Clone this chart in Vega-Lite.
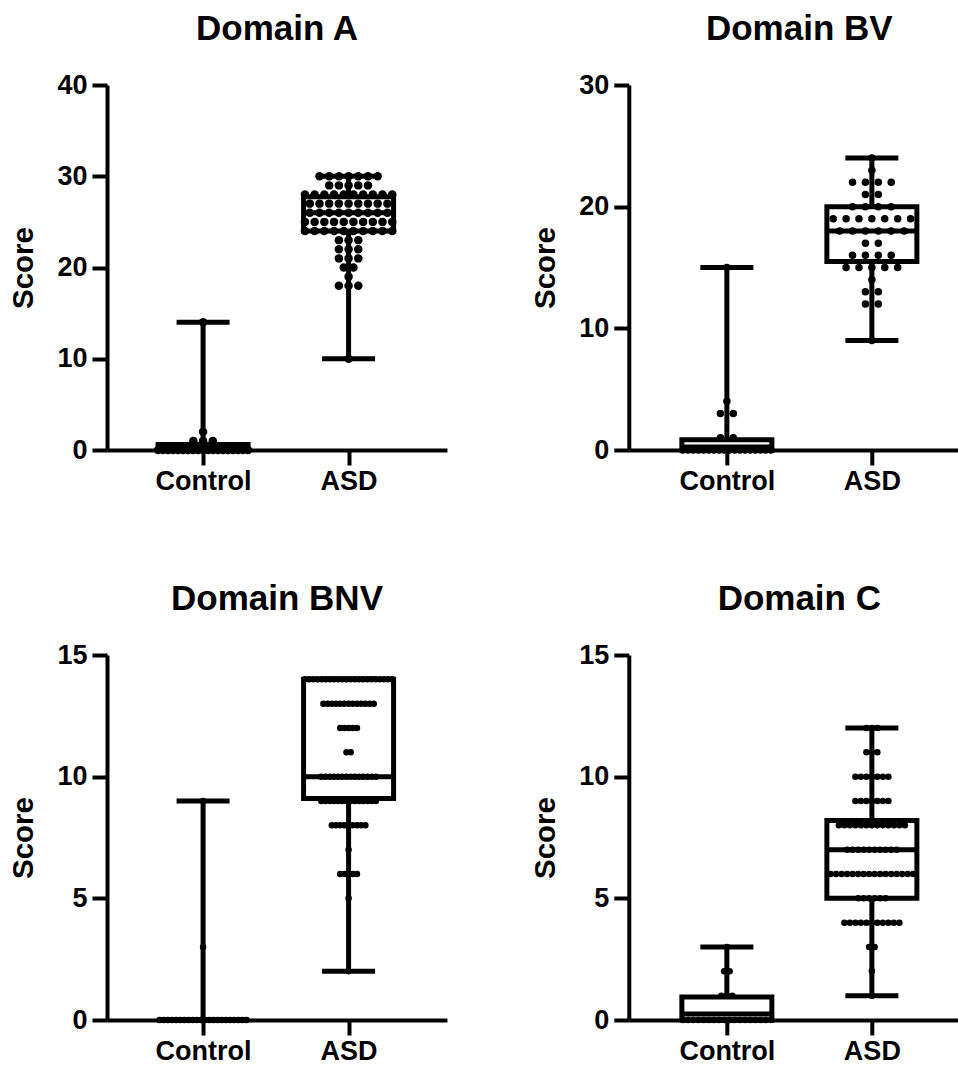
{
  "$schema": "https://vega.github.io/schema/vega-lite/v6.json",
  "padding": {"left": 8, "top": 12, "right": 0, "bottom": 0},
  "columns": 2,
  "spacing": {"row": 88, "column": 82.8},
  "datasets": {
    "A": [
      {"g":"Control","s":0},{"g":"Control","s":0},{"g":"Control","s":0},{"g":"Control","s":0},{"g":"Control","s":0},
      {"g":"Control","s":0},{"g":"Control","s":0},{"g":"Control","s":0},{"g":"Control","s":0},{"g":"Control","s":0},
      {"g":"Control","s":0},{"g":"Control","s":0},{"g":"Control","s":0},{"g":"Control","s":0},{"g":"Control","s":0},
      {"g":"Control","s":0},{"g":"Control","s":0},{"g":"Control","s":0},{"g":"Control","s":0},
      {"g":"Control","s":1},{"g":"Control","s":1},{"g":"Control","s":1},
      {"g":"Control","s":2},{"g":"Control","s":14},
      {"g":"ASD","s":30},{"g":"ASD","s":30},{"g":"ASD","s":30},{"g":"ASD","s":30},{"g":"ASD","s":30},{"g":"ASD","s":30},{"g":"ASD","s":30},
      {"g":"ASD","s":29},{"g":"ASD","s":29},{"g":"ASD","s":29},{"g":"ASD","s":29},{"g":"ASD","s":29},
      {"g":"ASD","s":28},{"g":"ASD","s":28},{"g":"ASD","s":28},{"g":"ASD","s":28},{"g":"ASD","s":28},{"g":"ASD","s":28},{"g":"ASD","s":28},{"g":"ASD","s":28},{"g":"ASD","s":28},{"g":"ASD","s":28},
      {"g":"ASD","s":27},{"g":"ASD","s":27},{"g":"ASD","s":27},{"g":"ASD","s":27},{"g":"ASD","s":27},{"g":"ASD","s":27},{"g":"ASD","s":27},{"g":"ASD","s":27},{"g":"ASD","s":27},
      {"g":"ASD","s":26},{"g":"ASD","s":26},{"g":"ASD","s":26},{"g":"ASD","s":26},{"g":"ASD","s":26},{"g":"ASD","s":26},{"g":"ASD","s":26},{"g":"ASD","s":26},{"g":"ASD","s":26},
      {"g":"ASD","s":25},{"g":"ASD","s":25},{"g":"ASD","s":25},{"g":"ASD","s":25},{"g":"ASD","s":25},{"g":"ASD","s":25},{"g":"ASD","s":25},{"g":"ASD","s":25},{"g":"ASD","s":25},{"g":"ASD","s":25},
      {"g":"ASD","s":24},{"g":"ASD","s":24},{"g":"ASD","s":24},{"g":"ASD","s":24},{"g":"ASD","s":24},{"g":"ASD","s":24},{"g":"ASD","s":24},{"g":"ASD","s":24},{"g":"ASD","s":24},{"g":"ASD","s":24},
      {"g":"ASD","s":23},{"g":"ASD","s":23},{"g":"ASD","s":23},
      {"g":"ASD","s":22},{"g":"ASD","s":22},{"g":"ASD","s":22},
      {"g":"ASD","s":21},{"g":"ASD","s":21},{"g":"ASD","s":21},
      {"g":"ASD","s":20},{"g":"ASD","s":20},
      {"g":"ASD","s":19},
      {"g":"ASD","s":18},{"g":"ASD","s":18},{"g":"ASD","s":18},
      {"g":"ASD","s":10}
    ],
    "A_box": [
      {"g":"Control","min":0,"q1":0,"med":0,"q3":0.6,"max":14},
      {"g":"ASD","min":10,"q1":24,"med":26,"q3":27.75,"max":30}
    ],
    "BV": [
      {"g":"Control","s":0},{"g":"Control","s":0},{"g":"Control","s":0},{"g":"Control","s":0},{"g":"Control","s":0},
      {"g":"Control","s":0},{"g":"Control","s":0},{"g":"Control","s":0},{"g":"Control","s":0},{"g":"Control","s":0},
      {"g":"Control","s":0},{"g":"Control","s":0},{"g":"Control","s":0},{"g":"Control","s":0},{"g":"Control","s":0},
      {"g":"Control","s":0},{"g":"Control","s":0},{"g":"Control","s":0},
      {"g":"Control","s":1},{"g":"Control","s":1},
      {"g":"Control","s":3},{"g":"Control","s":3},
      {"g":"Control","s":4},{"g":"Control","s":15},
      {"g":"ASD","s":24},{"g":"ASD","s":23},
      {"g":"ASD","s":22},{"g":"ASD","s":22},{"g":"ASD","s":22},{"g":"ASD","s":22},
      {"g":"ASD","s":21},{"g":"ASD","s":21},
      {"g":"ASD","s":20},{"g":"ASD","s":20},{"g":"ASD","s":20},{"g":"ASD","s":20},
      {"g":"ASD","s":19},{"g":"ASD","s":19},{"g":"ASD","s":19},{"g":"ASD","s":19},{"g":"ASD","s":19},{"g":"ASD","s":19},{"g":"ASD","s":19},
      {"g":"ASD","s":18},{"g":"ASD","s":18},{"g":"ASD","s":18},{"g":"ASD","s":18},{"g":"ASD","s":18},{"g":"ASD","s":18},
      {"g":"ASD","s":17},{"g":"ASD","s":17},
      {"g":"ASD","s":16},{"g":"ASD","s":16},{"g":"ASD","s":16},{"g":"ASD","s":16},
      {"g":"ASD","s":15},{"g":"ASD","s":15},{"g":"ASD","s":15},{"g":"ASD","s":15},{"g":"ASD","s":15},
      {"g":"ASD","s":14},
      {"g":"ASD","s":13},{"g":"ASD","s":13},
      {"g":"ASD","s":12},{"g":"ASD","s":12},
      {"g":"ASD","s":9}
    ],
    "BV_box": [
      {"g":"Control","min":0,"q1":0,"med":0.25,"q3":0.85,"max":15},
      {"g":"ASD","min":9,"q1":15.5,"med":18,"q3":20,"max":24}
    ],
    "BNV": [
      {"g":"Control","s":0},{"g":"Control","s":0},{"g":"Control","s":0},{"g":"Control","s":0},{"g":"Control","s":0},
      {"g":"Control","s":0},{"g":"Control","s":0},{"g":"Control","s":0},{"g":"Control","s":0},{"g":"Control","s":0},
      {"g":"Control","s":0},{"g":"Control","s":0},{"g":"Control","s":0},{"g":"Control","s":0},{"g":"Control","s":0},
      {"g":"Control","s":0},{"g":"Control","s":0},{"g":"Control","s":0},{"g":"Control","s":0},{"g":"Control","s":0},
      {"g":"Control","s":0},{"g":"Control","s":0},
      {"g":"Control","s":3},{"g":"Control","s":9},
      {"g":"ASD","s":14},{"g":"ASD","s":14},{"g":"ASD","s":14},{"g":"ASD","s":14},{"g":"ASD","s":14},
      {"g":"ASD","s":14},{"g":"ASD","s":14},{"g":"ASD","s":14},{"g":"ASD","s":14},{"g":"ASD","s":14},
      {"g":"ASD","s":14},{"g":"ASD","s":14},{"g":"ASD","s":14},{"g":"ASD","s":14},{"g":"ASD","s":14},
      {"g":"ASD","s":14},{"g":"ASD","s":14},{"g":"ASD","s":14},{"g":"ASD","s":14},{"g":"ASD","s":14},
      {"g":"ASD","s":14},{"g":"ASD","s":14},
      {"g":"ASD","s":13},{"g":"ASD","s":13},{"g":"ASD","s":13},{"g":"ASD","s":13},{"g":"ASD","s":13},
      {"g":"ASD","s":13},{"g":"ASD","s":13},{"g":"ASD","s":13},{"g":"ASD","s":13},{"g":"ASD","s":13},
      {"g":"ASD","s":13},{"g":"ASD","s":13},{"g":"ASD","s":13},
      {"g":"ASD","s":12},{"g":"ASD","s":12},{"g":"ASD","s":12},{"g":"ASD","s":12},{"g":"ASD","s":12},
      {"g":"ASD","s":11},{"g":"ASD","s":11},
      {"g":"ASD","s":10},{"g":"ASD","s":10},{"g":"ASD","s":10},{"g":"ASD","s":10},{"g":"ASD","s":10},
      {"g":"ASD","s":10},{"g":"ASD","s":10},{"g":"ASD","s":10},{"g":"ASD","s":10},{"g":"ASD","s":10},
      {"g":"ASD","s":10},{"g":"ASD","s":10},{"g":"ASD","s":10},{"g":"ASD","s":10},
      {"g":"ASD","s":9},{"g":"ASD","s":9},{"g":"ASD","s":9},{"g":"ASD","s":9},{"g":"ASD","s":9},
      {"g":"ASD","s":9},{"g":"ASD","s":9},{"g":"ASD","s":9},{"g":"ASD","s":9},{"g":"ASD","s":9},
      {"g":"ASD","s":9},{"g":"ASD","s":9},{"g":"ASD","s":9},{"g":"ASD","s":9},
      {"g":"ASD","s":8},{"g":"ASD","s":8},{"g":"ASD","s":8},{"g":"ASD","s":8},{"g":"ASD","s":8},
      {"g":"ASD","s":8},{"g":"ASD","s":8},{"g":"ASD","s":8},{"g":"ASD","s":8},
      {"g":"ASD","s":7},
      {"g":"ASD","s":6},{"g":"ASD","s":6},{"g":"ASD","s":6},{"g":"ASD","s":6},{"g":"ASD","s":6},
      {"g":"ASD","s":5},{"g":"ASD","s":2}
    ],
    "BNV_box": [
      {"g":"Control","min":0,"q1":0,"med":0,"q3":0,"max":9},
      {"g":"ASD","min":2,"q1":9.1,"med":10,"q3":14,"max":14}
    ],
    "C": [
      {"g":"Control","s":0},{"g":"Control","s":0},{"g":"Control","s":0},{"g":"Control","s":0},{"g":"Control","s":0},
      {"g":"Control","s":0},{"g":"Control","s":0},{"g":"Control","s":0},{"g":"Control","s":0},{"g":"Control","s":0},
      {"g":"Control","s":0},{"g":"Control","s":0},{"g":"Control","s":0},{"g":"Control","s":0},{"g":"Control","s":0},
      {"g":"Control","s":0},{"g":"Control","s":0},{"g":"Control","s":0},
      {"g":"Control","s":1},{"g":"Control","s":1},{"g":"Control","s":1},
      {"g":"Control","s":2},{"g":"Control","s":2},
      {"g":"Control","s":3},
      {"g":"ASD","s":12},{"g":"ASD","s":12},{"g":"ASD","s":12},
      {"g":"ASD","s":11},{"g":"ASD","s":11},{"g":"ASD","s":11},
      {"g":"ASD","s":10},{"g":"ASD","s":10},{"g":"ASD","s":10},{"g":"ASD","s":10},{"g":"ASD","s":10},{"g":"ASD","s":10},{"g":"ASD","s":10},
      {"g":"ASD","s":9},{"g":"ASD","s":9},{"g":"ASD","s":9},{"g":"ASD","s":9},{"g":"ASD","s":9},{"g":"ASD","s":9},{"g":"ASD","s":9},
      {"g":"ASD","s":8},{"g":"ASD","s":8},{"g":"ASD","s":8},{"g":"ASD","s":8},{"g":"ASD","s":8},
      {"g":"ASD","s":8},{"g":"ASD","s":8},{"g":"ASD","s":8},{"g":"ASD","s":8},{"g":"ASD","s":8},
      {"g":"ASD","s":8},{"g":"ASD","s":8},{"g":"ASD","s":8},
      {"g":"ASD","s":7},{"g":"ASD","s":7},{"g":"ASD","s":7},{"g":"ASD","s":7},{"g":"ASD","s":7},
      {"g":"ASD","s":7},{"g":"ASD","s":7},{"g":"ASD","s":7},{"g":"ASD","s":7},{"g":"ASD","s":7},
      {"g":"ASD","s":6},{"g":"ASD","s":6},{"g":"ASD","s":6},{"g":"ASD","s":6},{"g":"ASD","s":6},
      {"g":"ASD","s":6},{"g":"ASD","s":6},{"g":"ASD","s":6},{"g":"ASD","s":6},{"g":"ASD","s":6},
      {"g":"ASD","s":6},{"g":"ASD","s":6},{"g":"ASD","s":6},{"g":"ASD","s":6},{"g":"ASD","s":6},{"g":"ASD","s":6},
      {"g":"ASD","s":5},{"g":"ASD","s":5},{"g":"ASD","s":5},{"g":"ASD","s":5},{"g":"ASD","s":5},{"g":"ASD","s":5},
      {"g":"ASD","s":4},{"g":"ASD","s":4},{"g":"ASD","s":4},{"g":"ASD","s":4},{"g":"ASD","s":4},
      {"g":"ASD","s":4},{"g":"ASD","s":4},{"g":"ASD","s":4},{"g":"ASD","s":4},{"g":"ASD","s":4},{"g":"ASD","s":4},
      {"g":"ASD","s":3},{"g":"ASD","s":3},
      {"g":"ASD","s":2},{"g":"ASD","s":1}
    ],
    "C_box": [
      {"g":"Control","min":0,"q1":0,"med":0.25,"q3":0.95,"max":3},
      {"g":"ASD","min":1,"q1":5,"med":7,"q3":8.2,"max":12}
    ]
  },
  "concat": [
    {
      "title": "Domain A",
      "width": 340, "height": 365,
      "data": {"name": "A"},
      "layer": [
        {
          "transform": [
            {"window": [{"op": "row_number", "as": "rn"}, {"op": "count", "as": "n"}], "groupby": ["g", "s"], "frame": [null, null]},
            {"calculate": "(datum.rn - (datum.n + 1) / 2) * min(9.7, 90 / max(datum.n - 1, 1))", "as": "off"}
          ],
          "mark": {"type": "circle", "size": 72, "opacity": 1, "color": "black"},
          "encoding": {
            "x": {"field": "g", "type": "nominal", "title": null, "scale": {"type": "point", "domain": ["Control", "ASD"], "padding": 0.6684, "align": 0.494}, "axis": {"labelAngle": 0}},
            "xOffset": {"field": "off", "type": "quantitative", "scale": {"domain": [-60, 60], "range": [-60, 60]}},
            "y": {"field": "s", "type": "quantitative", "title": "Score", "scale": {"domain": [0, 40], "nice": false}, "axis": {"values": [0, 10, 20, 30, 40]}}
          }
        },
        {"data": {"name": "A_box"}, "mark": {"type": "rule", "strokeWidth": 5, "color": "black"},
         "encoding": {"x": {"field": "g", "type": "nominal", "title": null}, "y": {"field": "q3", "type": "quantitative", "title": "Score"}, "y2": {"field": "max"}}},
        {"data": {"name": "A_box"}, "mark": {"type": "rule", "strokeWidth": 5, "color": "black"},
         "encoding": {"x": {"field": "g", "type": "nominal", "title": null}, "y": {"field": "min", "type": "quantitative", "title": "Score"}, "y2": {"field": "q1"}}},
        {"data": {"name": "A_box"}, "mark": {"type": "bar", "size": 90, "fillOpacity": 0, "stroke": "black", "strokeWidth": 5},
         "encoding": {"x": {"field": "g", "type": "nominal", "title": null}, "y": {"field": "q1", "type": "quantitative", "title": "Score"}, "y2": {"field": "q3"}}},
        {"data": {"name": "A_box"}, "mark": {"type": "tick", "size": 90, "thickness": 5, "color": "black", "opacity": 1},
         "encoding": {"x": {"field": "g", "type": "nominal", "title": null}, "y": {"field": "med", "type": "quantitative", "title": "Score"}}},
        {"data": {"name": "A_box"}, "mark": {"type": "tick", "size": 53, "thickness": 5, "color": "black", "opacity": 1},
         "encoding": {"x": {"field": "g", "type": "nominal", "title": null}, "y": {"field": "max", "type": "quantitative", "title": "Score"}}},
        {"data": {"name": "A_box"}, "mark": {"type": "tick", "size": 53, "thickness": 5, "color": "black", "opacity": 1},
         "encoding": {"x": {"field": "g", "type": "nominal", "title": null}, "y": {"field": "min", "type": "quantitative", "title": "Score"}}}
      ]
    },
    {
      "title": {"text": "Domain BV", "dx": 6},
      "width": 329, "height": 365,
      "data": {"name": "BV"},
      "layer": [
        {
          "transform": [
            {"window": [{"op": "row_number", "as": "rn"}, {"op": "count", "as": "n"}], "groupby": ["g", "s"], "frame": [null, null]},
            {"calculate": "(datum.rn - (datum.n + 1) / 2) * min(12.9, 88 / max(datum.n - 1, 1))", "as": "off"}
          ],
          "mark": {"type": "circle", "size": 56, "opacity": 1, "color": "black"},
          "encoding": {
            "x": {"field": "g", "type": "nominal", "title": null, "scale": {"type": "point", "domain": ["Control", "ASD"], "padding": 0.6345, "align": 0.533}, "axis": {"labelAngle": 0}},
            "xOffset": {"field": "off", "type": "quantitative", "scale": {"domain": [-60, 60], "range": [-60, 60]}},
            "y": {"field": "s", "type": "quantitative", "title": "Score", "scale": {"domain": [0, 30], "nice": false}, "axis": {"values": [0, 10, 20, 30]}}
          }
        },
        {"data": {"name": "BV_box"}, "mark": {"type": "rule", "strokeWidth": 5, "color": "black"},
         "encoding": {"x": {"field": "g", "type": "nominal", "title": null}, "y": {"field": "q3", "type": "quantitative", "title": "Score"}, "y2": {"field": "max"}}},
        {"data": {"name": "BV_box"}, "mark": {"type": "rule", "strokeWidth": 5, "color": "black"},
         "encoding": {"x": {"field": "g", "type": "nominal", "title": null}, "y": {"field": "min", "type": "quantitative", "title": "Score"}, "y2": {"field": "q1"}}},
        {"data": {"name": "BV_box"}, "mark": {"type": "bar", "size": 90, "fillOpacity": 0, "stroke": "black", "strokeWidth": 5},
         "encoding": {"x": {"field": "g", "type": "nominal", "title": null}, "y": {"field": "q1", "type": "quantitative", "title": "Score"}, "y2": {"field": "q3"}}},
        {"data": {"name": "BV_box"}, "mark": {"type": "tick", "size": 90, "thickness": 5, "color": "black", "opacity": 1},
         "encoding": {"x": {"field": "g", "type": "nominal", "title": null}, "y": {"field": "med", "type": "quantitative", "title": "Score"}}},
        {"data": {"name": "BV_box"}, "mark": {"type": "tick", "size": 53, "thickness": 5, "color": "black", "opacity": 1},
         "encoding": {"x": {"field": "g", "type": "nominal", "title": null}, "y": {"field": "max", "type": "quantitative", "title": "Score"}}},
        {"data": {"name": "BV_box"}, "mark": {"type": "tick", "size": 53, "thickness": 5, "color": "black", "opacity": 1},
         "encoding": {"x": {"field": "g", "type": "nominal", "title": null}, "y": {"field": "min", "type": "quantitative", "title": "Score"}}}
      ]
    },
    {
      "title": "Domain BNV",
      "width": 340, "height": 365,
      "data": {"name": "BNV"},
      "layer": [
        {
          "transform": [
            {"window": [{"op": "row_number", "as": "rn"}, {"op": "count", "as": "n"}], "groupby": ["g", "s"], "frame": [null, null]},
            {"calculate": "(datum.rn - (datum.n + 1) / 2) * min(4.2, 87 / max(datum.n - 1, 1))", "as": "off"}
          ],
          "mark": {"type": "circle", "size": 42, "opacity": 1, "color": "black"},
          "encoding": {
            "x": {"field": "g", "type": "nominal", "title": null, "scale": {"type": "point", "domain": ["Control", "ASD"], "padding": 0.6684, "align": 0.494}, "axis": {"labelAngle": 0}},
            "xOffset": {"field": "off", "type": "quantitative", "scale": {"domain": [-60, 60], "range": [-60, 60]}},
            "y": {"field": "s", "type": "quantitative", "title": "Score", "scale": {"domain": [0, 15], "nice": false}, "axis": {"values": [0, 5, 10, 15]}}
          }
        },
        {"data": {"name": "BNV_box"}, "mark": {"type": "rule", "strokeWidth": 5, "color": "black"},
         "encoding": {"x": {"field": "g", "type": "nominal", "title": null}, "y": {"field": "q3", "type": "quantitative", "title": "Score"}, "y2": {"field": "max"}}},
        {"data": {"name": "BNV_box"}, "mark": {"type": "rule", "strokeWidth": 5, "color": "black"},
         "encoding": {"x": {"field": "g", "type": "nominal", "title": null}, "y": {"field": "min", "type": "quantitative", "title": "Score"}, "y2": {"field": "q1"}}},
        {"data": {"name": "BNV_box"}, "mark": {"type": "bar", "size": 90, "fillOpacity": 0, "stroke": "black", "strokeWidth": 5},
         "encoding": {"x": {"field": "g", "type": "nominal", "title": null}, "y": {"field": "q1", "type": "quantitative", "title": "Score"}, "y2": {"field": "q3"}}},
        {"data": {"name": "BNV_box"}, "mark": {"type": "tick", "size": 90, "thickness": 5, "color": "black", "opacity": 1},
         "encoding": {"x": {"field": "g", "type": "nominal", "title": null}, "y": {"field": "med", "type": "quantitative", "title": "Score"}}},
        {"data": {"name": "BNV_box"}, "mark": {"type": "tick", "size": 53, "thickness": 5, "color": "black", "opacity": 1},
         "encoding": {"x": {"field": "g", "type": "nominal", "title": null}, "y": {"field": "max", "type": "quantitative", "title": "Score"}}},
        {"data": {"name": "BNV_box"}, "mark": {"type": "tick", "size": 53, "thickness": 5, "color": "black", "opacity": 1},
         "encoding": {"x": {"field": "g", "type": "nominal", "title": null}, "y": {"field": "min", "type": "quantitative", "title": "Score"}}}
      ]
    },
    {
      "title": {"text": "Domain C", "dx": 6},
      "width": 329, "height": 365,
      "data": {"name": "C"},
      "layer": [
        {
          "transform": [
            {"window": [{"op": "row_number", "as": "rn"}, {"op": "count", "as": "n"}], "groupby": ["g", "s"], "frame": [null, null]},
            {"calculate": "(datum.rn - (datum.n + 1) / 2) * min(5.5, 88 / max(datum.n - 1, 1))", "as": "off"}
          ],
          "mark": {"type": "circle", "size": 42, "opacity": 1, "color": "black"},
          "encoding": {
            "x": {"field": "g", "type": "nominal", "title": null, "scale": {"type": "point", "domain": ["Control", "ASD"], "padding": 0.6345, "align": 0.533}, "axis": {"labelAngle": 0}},
            "xOffset": {"field": "off", "type": "quantitative", "scale": {"domain": [-60, 60], "range": [-60, 60]}},
            "y": {"field": "s", "type": "quantitative", "title": "Score", "scale": {"domain": [0, 15], "nice": false}, "axis": {"values": [0, 5, 10, 15]}}
          }
        },
        {"data": {"name": "C_box"}, "mark": {"type": "rule", "strokeWidth": 5, "color": "black"},
         "encoding": {"x": {"field": "g", "type": "nominal", "title": null}, "y": {"field": "q3", "type": "quantitative", "title": "Score"}, "y2": {"field": "max"}}},
        {"data": {"name": "C_box"}, "mark": {"type": "rule", "strokeWidth": 5, "color": "black"},
         "encoding": {"x": {"field": "g", "type": "nominal", "title": null}, "y": {"field": "min", "type": "quantitative", "title": "Score"}, "y2": {"field": "q1"}}},
        {"data": {"name": "C_box"}, "mark": {"type": "bar", "size": 90, "fillOpacity": 0, "stroke": "black", "strokeWidth": 5},
         "encoding": {"x": {"field": "g", "type": "nominal", "title": null}, "y": {"field": "q1", "type": "quantitative", "title": "Score"}, "y2": {"field": "q3"}}},
        {"data": {"name": "C_box"}, "mark": {"type": "tick", "size": 90, "thickness": 5, "color": "black", "opacity": 1},
         "encoding": {"x": {"field": "g", "type": "nominal", "title": null}, "y": {"field": "med", "type": "quantitative", "title": "Score"}}},
        {"data": {"name": "C_box"}, "mark": {"type": "tick", "size": 53, "thickness": 5, "color": "black", "opacity": 1},
         "encoding": {"x": {"field": "g", "type": "nominal", "title": null}, "y": {"field": "max", "type": "quantitative", "title": "Score"}}},
        {"data": {"name": "C_box"}, "mark": {"type": "tick", "size": 53, "thickness": 5, "color": "black", "opacity": 1},
         "encoding": {"x": {"field": "g", "type": "nominal", "title": null}, "y": {"field": "min", "type": "quantitative", "title": "Score"}}}
      ]
    }
  ],
  "config": {
    "font": "Liberation Sans",
    "view": {"stroke": null},
    "axis": {
      "domainColor": "black", "domainWidth": 4, "tickColor": "black", "tickWidth": 4, "tickSize": 15,
      "labelFont": "Liberation Sans", "labelFontSize": 27, "labelFontWeight": "bold", "labelColor": "black",
      "titleFont": "Liberation Sans", "titleFontSize": 29.5, "titleFontWeight": "bold", "titleColor": "black",
      "grid": false
    },
    "axisY": {"labelPadding": 5, "titlePadding": 18},
    "axisX": {"labelPadding": 3},
    "title": {"font": "Liberation Sans", "fontSize": 35, "fontWeight": "bold", "color": "black", "frame": "group", "anchor": "middle", "offset": 24}
  }
}
